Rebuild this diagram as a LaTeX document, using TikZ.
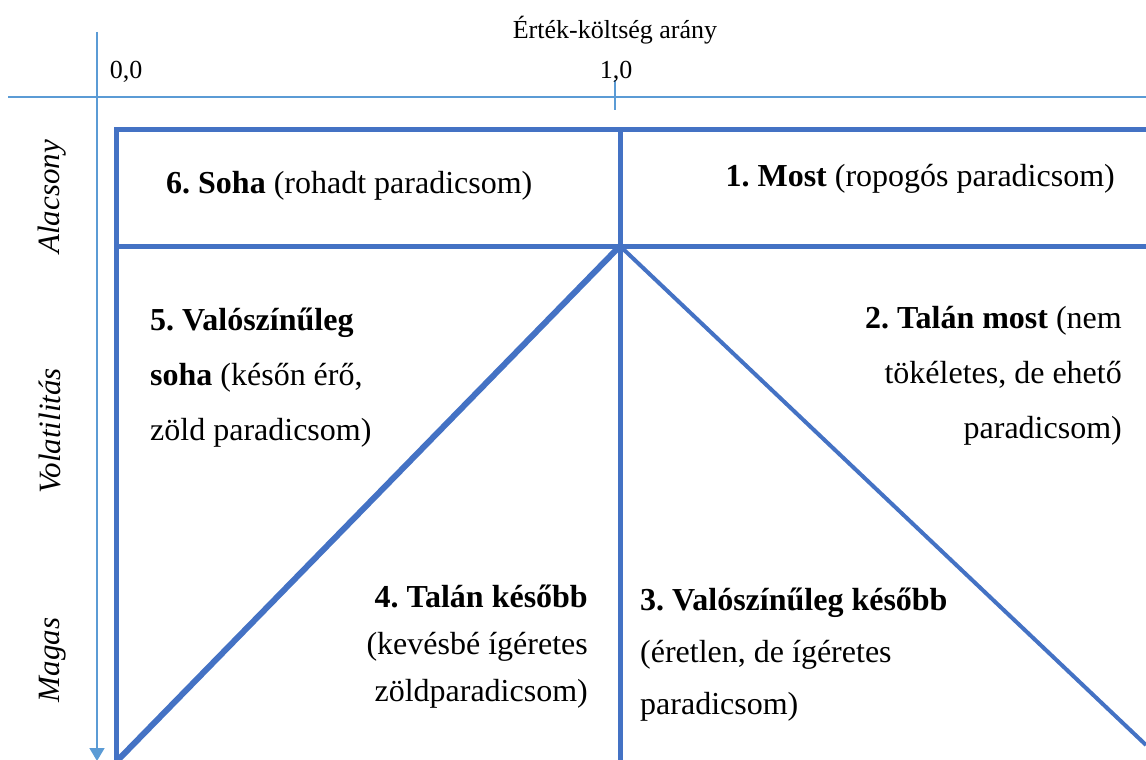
\documentclass[tikz,border=0pt]{standalone}
\usepackage{fontspec}
\setmainfont{Liberation Serif}
\usetikzlibrary{arrows.meta}
\definecolor{gridblue}{HTML}{4472C4}
\definecolor{axisblue}{HTML}{5B9BD5}
\frenchspacing
\begin{document}
\begin{tikzpicture}[x=1pt,y=-1pt,
  axis/.style={draw=axisblue,line width=1.5pt},
  frame/.style={draw=gridblue,line width=5pt},
  lbl/.style={inner sep=0pt,font=\fontsize{26}{30}\selectfont},
  vlbl/.style={inner sep=0pt,rotate=90,anchor=base,font=\fontsize{31}{36}\selectfont\itshape},
  cell/.style={inner sep=0pt,font=\fontsize{32}{55}\selectfont}]
\useasboundingbox (0,0) rectangle (1146,760);

% key points of the grid
\coordinate (tl) at (116,129);
\coordinate (tr) at (1146,129);
\coordinate (ml) at (116,246);
\coordinate (mr) at (1146,246);
\coordinate (topmid) at (620,129);
\coordinate (apex) at (620,246);
\coordinate (botmid) at (620,760);
\coordinate (botleft) at (116,760);
\coordinate (ldiag) at (118,760);
\coordinate (rdiag) at (1146,745);

% axes
\coordinate (xa) at (8,97);
\coordinate (xb) at (1146,97);
\coordinate (ya) at (97,32);
\coordinate (yb) at (97,761);
\coordinate (ticka) at (615,80);
\coordinate (tickb) at (615,110);
\draw[axis] (xa) -- (xb);
\draw[axis,-{Triangle[width=15pt,length=13pt]}] (ya) -- (yb);
\draw[axis,line width=2pt] (ticka) -- (tickb);

% grid
\draw[frame,line join=miter] (tr) -- (tl) -- (botleft);
\draw[frame] (ml) -- (mr);
\draw[frame] (topmid) -- (botmid);
\draw[draw=gridblue,line width=6pt] (apex) -- (ldiag);
\draw[draw=gridblue,line width=4pt] (apex) -- (rdiag);

% axis labels
\node[lbl] (xtitle) at (615,30) {Érték-költség arány};
\node[lbl] (zero) at (126,72) {0,0};
\node[lbl] (one) at (616,72) {1,0};
\node[vlbl] (low) at (59,197) {Alacsony};
\node[vlbl] (vol) at (60,431) {Volatilitás};
\node[vlbl] (high) at (59,660) {Magas};

% cells
\node[cell,anchor=west] (c6) at (166,186) {\textbf{6. Soha} (rohadt paradicsom)};
\node[cell,anchor=east] (c1) at (1115,179) {\textbf{1. Most} (ropogós paradicsom)};
\node[cell,anchor=west,align=left] (c5) at (150,378)
  {\textbf{5. Valószínűleg}\\\textbf{soha} (későn érő,\\zöld paradicsom)};
\node[cell,anchor=east,align=right] (c2) at (1122,376)
  {\textbf{2. Talán most} (nem\\tökéletes, de ehető\\paradicsom)};
\node[cell,anchor=east,align=right,font=\fontsize{32}{47}\selectfont] (c4) at (588,647)
  {\textbf{4. Talán később}\\(kevésbé ígéretes\\zöldparadicsom)};
\node[cell,anchor=west,align=left,font=\fontsize{32}{52}\selectfont] (c3) at (640,655)
  {\textbf{3. Valószínűleg később}\\(éretlen, de ígéretes\\paradicsom)};
\end{tikzpicture}
\end{document}
